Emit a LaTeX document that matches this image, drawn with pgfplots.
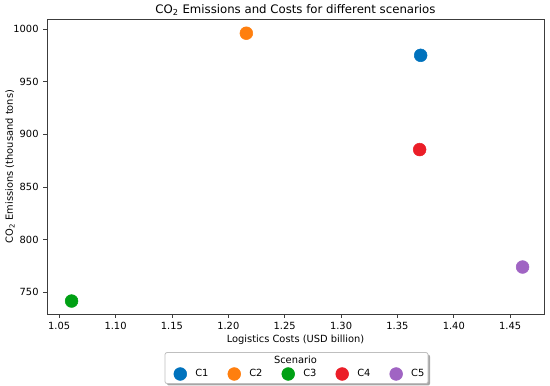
\documentclass[border=0pt]{standalone}
\usepackage{pgfplots}
\pgfplotsset{compat=1.18}
\usepackage{fontspec}
\setmainfont{DejaVu Sans}
\definecolor{cA}{RGB}{0,114,189}
\definecolor{cB}{RGB}{255,127,14}
\definecolor{cC}{RGB}{0,160,20}
\definecolor{cD}{RGB}{235,30,40}
\definecolor{cE}{RGB}{160,100,195}
\definecolor{axgray}{RGB}{60,60,60}
\begin{document}
\begin{tikzpicture}
\begin{axis}[
  scale only axis,
  width=372.75pt, height=221.25pt,
  xmin=1.0392, xmax=1.480, ymin=729.4, ymax=1009.5,
  clip=false,
  axis line style={axgray, line width=0.6pt},
  tick style={axgray, line width=0.6pt},
  tick align=outside, major tick length=2.8pt,
  xtick pos=left, ytick pos=left,
  xtick={1.05,1.10,1.15,1.20,1.25,1.30,1.35,1.40,1.45},
  ytick={750,800,850,900,950,1000},
  xticklabel style={/pgf/number format/.cd, fixed, fixed zerofill, precision=2},
  yticklabel style={/pgf/number format/.cd, fixed, precision=0},
  /pgf/number format/assume math mode=true,
  /pgf/number format/1000 sep={},
  ticklabel style={font=\fontsize{7.4}{8.8}\selectfont},
  xlabel={Logistics Costs (USD billion)},
  ylabel={CO\textsubscript{2} Emissions (thousand tons)},
  every axis x label/.style={at={(axis description cs:0.5,-0.0868)}, anchor=center, font=\fontsize{7.4}{8.8}\selectfont},
  every axis y label/.style={at={(axis description cs:-0.0745,0.5)}, rotate=90, anchor=center, font=\fontsize{7.4}{8.8}\selectfont},
  title={CO\textsubscript{2} Emissions and Costs for different scenarios},
  every axis title/.style={at={(axis description cs:0.5,1.029)}, anchor=center, font=\fontsize{8.8}{10}\selectfont},
  legend columns=5,
  legend style={at={(axis description cs:0.510,-0.2034)}, anchor=center, draw=none, fill=none,
    font=\fontsize{7.4}{8.8}\selectfont,
    /tikz/every odd column/.append style={column sep=4.5pt},
    /tikz/every even column/.append style={column sep=12.5pt}},
  legend image code/.code={\draw[#1] plot coordinates {(0pt,0pt)};},
  legend cell align=left,
]
% manual legend frame and title
\fill[black!35, rounded corners=1.5pt] ([xshift=1.5pt,yshift=-1.5pt]axis description cs:0.2374,-0.1308) rectangle ([xshift=1.5pt,yshift=-1.5pt]axis description cs:0.7666,-0.2356);
\draw[black!25, fill=white, rounded corners=1.5pt, line width=0.6pt] (axis description cs:0.2374,-0.1308) rectangle (axis description cs:0.7666,-0.2356);
\node[font=\fontsize{7.4}{8.8}\selectfont, anchor=center] at (axis description cs:0.5,-0.156) {Scenario};
\addplot[only marks, mark=*, mark size=4.8pt, color=cA] coordinates {(1.3706,975)};
\addlegendentry{C1}
\addplot[only marks, mark=*, mark size=4.8pt, color=cB] coordinates {(1.216,996)};
\addlegendentry{C2}
\addplot[only marks, mark=*, mark size=4.8pt, color=cC] coordinates {(1.061,741.7)};
\addlegendentry{C3}
\addplot[only marks, mark=*, mark size=4.8pt, color=cD] coordinates {(1.3697,885.5)};
\addlegendentry{C4}
\addplot[only marks, mark=*, mark size=4.8pt, color=cE] coordinates {(1.461,774)};
\addlegendentry{C5}
\end{axis}
\path (current axis.south west) ++(-35.25pt,-53.25pt) rectangle ++(412.5pt,288.75pt);
\end{tikzpicture}
\end{document}
